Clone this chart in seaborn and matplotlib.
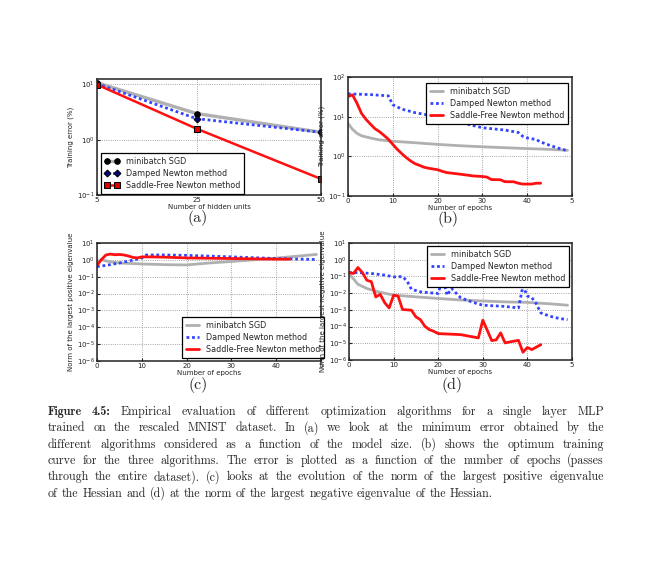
import numpy as np
import pandas as pd
import seaborn as sns
import matplotlib
matplotlib.use("Agg")
import matplotlib.pyplot as plt
from matplotlib.ticker import FixedLocator, NullLocator

# ---------------- data ----------------
# (a) minimum training error vs number of hidden units
hidden_units = [5, 25, 50]
a_sgd = [10.7, 2.97, 1.36]
a_damped = [10.3, 2.4, 1.36]
a_sfn = [9.9, 1.58, 0.195]

# (b) training error vs epochs
b_sgd_x = [0, 1, 2, 3, 5, 7, 10, 15, 20, 25, 30, 35, 40, 45, 49]
b_sgd = [6.8, 4.8, 3.8, 3.3, 2.9, 2.6, 2.4, 2.2, 2.0, 1.85, 1.74, 1.65, 1.57, 1.5, 1.42]
b_damped_x = [0, 5, 9, 10, 12, 15, 20, 25, 30, 35, 38, 39, 40, 42, 43, 45, 47, 49]
b_damped = [37.6, 36, 33.5, 20, 15.5, 12.6, 10, 7.2, 5.25, 4.6, 4.0, 3.2, 2.9, 2.65, 2.3, 1.9, 1.6, 1.38]
b_sfn_x = [0, 1, 2, 3, 4, 5, 6, 7, 8, 9, 10, 11, 12, 13, 14, 15, 16, 17, 18, 20, 21, 22,
           25, 28, 30, 31, 32, 34, 35, 37, 38, 39, 41, 42, 43]
b_sfn = [32, 35.5, 21.8, 12.2, 8.6, 6.5, 5.0, 4.2, 3.4, 2.7, 2.0, 1.5, 1.17, 0.93, 0.76, 0.65,
         0.59, 0.53, 0.50, 0.46, 0.42, 0.39, 0.355, 0.32, 0.31, 0.30, 0.26, 0.257, 0.23, 0.228,
         0.21, 0.20, 0.20, 0.21, 0.21]

# (c) norm of largest positive eigenvalue vs epochs
c_sgd_x = [0, 1, 2, 5, 10, 15, 20, 25, 30, 40, 49]
c_sgd = [0.72, 1.05, 0.85, 0.65, 0.57, 0.52, 0.5, 0.65, 0.8, 1.27, 2.1]
c_damped_x = [0, 2, 5, 8, 10, 11, 15, 20, 30, 40, 49]
c_damped = [0.4, 0.47, 0.65, 0.96, 1.3, 1.95, 1.95, 1.85, 1.5, 1.2, 1.05]
c_sfn_x = [0, 1, 2, 3, 4, 5, 6, 7, 8, 9, 10, 12, 15, 20, 30, 40, 43]
c_sfn = [0.47, 1.05, 1.95, 2.2, 2.0, 2.1, 1.95, 1.7, 1.4, 1.3, 1.5, 1.5, 1.45, 1.3, 1.2, 1.1, 1.1]

# (d) norm of largest negative eigenvalue vs epochs
d_sgd_x = [0, 2, 4, 6, 8, 10, 15, 20, 25, 30, 35, 40, 45, 49]
d_sgd = [0.15, 0.034, 0.019, 0.013, 0.0098, 0.0077, 0.006, 0.0048, 0.0039, 0.0034, 0.003,
         0.0028, 0.0023, 0.0019]
d_damped_x = [0, 2, 5, 8, 10, 12, 13, 14, 16, 18, 20, 21, 22, 23, 25, 26, 28, 30, 35, 38,
              39, 40, 41, 42, 43, 45, 47, 49]
d_damped = [0.17, 0.17, 0.15, 0.12, 0.094, 0.098, 0.054, 0.017, 0.012, 0.0106, 0.0096, 0.085,
            0.0075, 0.019, 0.0054, 0.0042, 0.0027, 0.0019, 0.0016, 0.0013, 0.027, 0.0067,
            0.0054, 0.0023, 0.00066, 0.00042, 0.00031, 0.00026]
d_sfn_x = [0, 1, 2, 3, 4, 5, 6, 7, 8, 9, 10, 11, 12, 13, 14, 15, 16, 17, 18, 19, 20, 25, 29,
           30, 31, 32, 33, 34, 35, 36, 38, 39, 40, 41, 43]
d_sfn = [0.17, 0.15, 0.34, 0.17, 0.059, 0.049, 0.0059, 0.0085, 0.0027, 0.0013, 0.0074, 0.0067,
         0.00105, 0.001, 0.00095, 0.00038, 0.00026, 0.000105, 6.6e-5, 5.2e-5, 3.8e-5, 3.3e-5,
         2.1e-5, 2.4e-4, 6e-5, 1.45e-5, 1.6e-5, 4.2e-5, 1.05e-5, 1.2e-5, 1.5e-5, 2.9e-6,
         5.6e-6, 4.2e-6, 8.3e-6]

labels = ["minibatch SGD", "Damped Newton method", "Saddle-Free Newton method"]
epoch_ticks = [0, 10, 20, 30, 40, 50]
epoch_ticklabels = ["0", "10", "20", "30", "40", "5"]

caption_lines = [
    "Figure 4.5: Empirical evaluation of different optimization algorithms for a single layer MLP",
    "trained on the rescaled MNIST dataset. In (a) we look at the minimum error obtained by the",
    "different algorithms considered as a function of the model size. (b) shows the optimum training",
    "curve for the three algorithms. The error is plotted as a function of the number of epochs (passes",
    "through the entire dataset). (c) looks at the evolution of the norm of the largest positive eigenvalue",
    "of the Hessian and (d) at the norm of the largest negative eigenvalue of the Hessian.",
]

# ---------------- figure ----------------
sns.set_style("ticks")
W, H = 663, 577
fig = plt.figure(figsize=(W / 100, H / 100), dpi=100)

GRAY, BLUE, RED = "#b0b0b0", "#3344ff", "#ff1010"
DOTS = (0, (1, 1))


def style_axes(ax, ylim, xlabel, ylabel):
    ax.set_yscale("log")
    ax.set_ylim(*ylim)
    ax.yaxis.set_minor_locator(NullLocator())
    ax.grid(True, which="major", ls=":", color="#888888", lw=0.6)
    for s in ax.spines.values():
        s.set_color("#222222")
        s.set_linewidth(1.1)
    ax.tick_params(labelsize=5, length=2, direction="in", pad=1.5, colors="#222222")
    ax.set_xlabel(xlabel, fontsize=5, labelpad=0.5, color="#222222")
    ax.set_ylabel(ylabel, fontsize=5, labelpad=2, color="#222222")


def legend_at(ax, x, y, numpoints=1, hl=1.6):
    leg = ax.legend(loc="upper left", bbox_to_anchor=(x / W, 1 - y / H),
                    bbox_transform=fig.transFigure, fontsize=5.8, frameon=True,
                    fancybox=False, framealpha=1, edgecolor="black", borderpad=0.45,
                    labelspacing=0.4, handlelength=hl, handletextpad=0.9,
                    numpoints=numpoints, borderaxespad=0)
    leg.get_frame().set_linewidth(0.9)


# (a)
ax_a = fig.add_axes([97 / W, 1 - 195 / H, 224 / W, 116 / H])
sns.lineplot(x=hidden_units, y=a_sgd, ax=ax_a, color=GRAY, lw=2.4, marker="o",
             markersize=4, markerfacecolor="black", markeredgecolor="black", label=labels[0])
sns.lineplot(x=hidden_units, y=a_damped, ax=ax_a, color=BLUE, lw=2, linestyle=DOTS,
             marker="D", markersize=3.5, markerfacecolor="#000080", markeredgecolor="black",
             label=labels[1])
sns.lineplot(x=hidden_units, y=a_sfn, ax=ax_a, color=RED, lw=1.8, marker="s",
             markersize=4, markerfacecolor="#dd0000", markeredgecolor="black", label=labels[2])
style_axes(ax_a, (0.1, 12.5), "Number of hidden units", "Training error (%)")
ax_a.set_xlim(5, 50)
ax_a.xaxis.set_major_locator(FixedLocator(hidden_units))
ax_a.set_xticklabels([str(v) for v in hidden_units])
legend_at(ax_a, 101, 153, numpoints=2, hl=1.8)

# (b)
ax_b = fig.add_axes([348 / W, 1 - 196 / H, 224 / W, 119 / H])
sns.lineplot(x=b_sgd_x, y=b_sgd, ax=ax_b, color=GRAY, lw=2, label=labels[0])
sns.lineplot(x=b_damped_x, y=b_damped, ax=ax_b, color=BLUE, lw=2, linestyle=DOTS, label=labels[1])
sns.lineplot(x=b_sfn_x, y=b_sfn, ax=ax_b, color=RED, lw=2, label=labels[2])
style_axes(ax_b, (0.1, 100), "Number of epochs", "Training error (%)")
ax_b.set_xlim(0, 50)
ax_b.xaxis.set_major_locator(FixedLocator(epoch_ticks))
ax_b.set_xticklabels(epoch_ticklabels)
legend_at(ax_b, 426, 83)

# (c)
ax_c = fig.add_axes([97 / W, 1 - 361 / H, 224 / W, 118 / H])
sns.lineplot(x=c_sgd_x, y=c_sgd, ax=ax_c, color=GRAY, lw=2, label=labels[0])
sns.lineplot(x=c_damped_x, y=c_damped, ax=ax_c, color=BLUE, lw=2, linestyle=DOTS, label=labels[1])
sns.lineplot(x=c_sfn_x, y=c_sfn, ax=ax_c, color=RED, lw=2, label=labels[2])
style_axes(ax_c, (1e-6, 10), "Number of epochs", "Norm of the largest positive eigenvalue")
ax_c.set_xlim(0, 50)
ax_c.xaxis.set_major_locator(FixedLocator(epoch_ticks))
ax_c.set_xticklabels(epoch_ticklabels)
ax_c.yaxis.set_major_locator(FixedLocator([10.0 ** k for k in range(-6, 2)]))
legend_at(ax_c, 182, 317)

# (d)
ax_d = fig.add_axes([349 / W, 1 - 360 / H, 223 / W, 117 / H])
sns.lineplot(x=d_sgd_x, y=d_sgd, ax=ax_d, color=GRAY, lw=2, label=labels[0])
sns.lineplot(x=d_damped_x, y=d_damped, ax=ax_d, color=BLUE, lw=2, linestyle=DOTS, label=labels[1])
sns.lineplot(x=d_sfn_x, y=d_sfn, ax=ax_d, color=RED, lw=2, label=labels[2])
style_axes(ax_d, (1e-6, 10), "Number of epochs", "Norm of the largest negative eigenvalue")
ax_d.set_xlim(0, 50)
ax_d.xaxis.set_major_locator(FixedLocator(epoch_ticks))
ax_d.set_xticklabels(epoch_ticklabels)
ax_d.yaxis.set_major_locator(FixedLocator([10.0 ** k for k in range(-6, 2)]))
legend_at(ax_d, 427, 246)

# panel letters
for lab, (px, py) in zip(["(a)", "(b)", "(c)", "(d)"],
                         [(198, 218), (448, 219), (198, 385), (452, 385)]):
    fig.text(px / W, 1 - py / H, lab, family="cmr10", fontsize=11.5, ha="center", va="center")

# caption, justified between left and right margins
fig.canvas.draw()
rend = fig.canvas.get_renderer()
cap_left, cap_right = 48, 604
cap_base = [415, 431.3, 447.6, 464, 480.3, 496.6]


def text_width(s, size, fam):
    t = fig.text(0.5, 0.5, s, fontsize=size, family=fam)
    w = t.get_window_extent(rend).width
    t.remove()
    return w


# calibrate on the word "Empirical", about 51 px wide in the reference
cap_size = 10 * 51 / text_width("Empirical", 10, "cmr10")
space = 0.333 * cap_size * 100 / 72

for i, line in enumerate(caption_lines):
    words = line.split()
    n_bold = 2 if i == 0 else 0
    fams = ["cmb10" if j < n_bold else "cmr10" for j in range(len(words))]
    ws = [text_width(w, cap_size, f) for w, f in zip(words, fams)]
    if i < len(caption_lines) - 1:
        gap = (cap_right - cap_left - sum(ws)) / (len(words) - 1)
    else:
        gap = space
    x = cap_left
    for w, wd, f in zip(words, ws, fams):
        fig.text(x / W, 1 - cap_base[i] / H, w, fontsize=cap_size,
                 family=f, ha="left", va="baseline")
        x += wd + gap

fig.savefig("out.png", dpi=100)
